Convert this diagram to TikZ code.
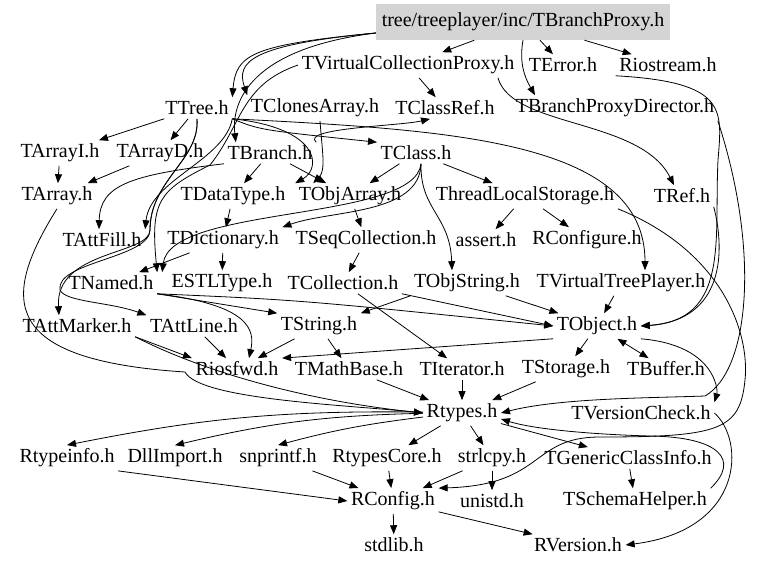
\documentclass[tikz,border=0pt]{standalone}
\usepackage{fontspec}
\setmainfont{Liberation Serif}
\usetikzlibrary{arrows.meta}
\tikzset{
    hdr/.style={font=\fontsize{20}{22}\selectfont, inner sep=3.5pt},
    dep/.style={-{Triangle[length=9pt,width=7pt]}, line width=0.8pt},
    both/.style={{Triangle[length=9pt,width=7pt]}-{Triangle[length=9pt,width=7pt]}, line width=0.8pt},
}
\begin{document}
\begin{tikzpicture}[x=1pt,y=-1pt]
            \useasboundingbox (0,0) rectangle (768,568);
            \node[hdr, fill=black!17, minimum width=294, minimum height=36] (root) at (523,22) {tree/treeplayer/inc/TBranchProxy.h};
            \node[hdr] (tvcproxy) at (408,65) {TVirtualCollectionProxy.h};
            \node[hdr] (terror) at (563,65) {TError.h};
            \node[hdr] (riostream) at (668,65) {Riostream.h};
            \node[hdr] (ttree) at (197,108) {TTree.h};
            \node[hdr] (tclonesarray) at (315,108) {TClonesArray.h};
            \node[hdr] (tclassref) at (445,108) {TClassRef.h};
            \node[hdr] (tbpdirector) at (615,108) {TBranchProxyDirector.h};
            \node[hdr] (tarrayi) at (60,153) {TArrayI.h};
            \node[hdr] (tarrayd) at (160,153) {TArrayD.h};
            \node[hdr] (tbranch) at (270,153) {TBranch.h};
            \node[hdr] (tclass) at (416,153) {TClass.h};
            \node[hdr] (tarray) at (57,196) {TArray.h};
            \node[hdr] (tdatatype) at (233,196) {TDataType.h};
            \node[hdr] (tobjarray) at (350,196) {TObjArray.h};
            \node[hdr] (tls) at (525,196) {ThreadLocalStorage.h};
            \node[hdr] (tref) at (682,196) {TRef.h};
            \node[hdr] (tattfill) at (102,240) {TAttFill.h};
            \node[hdr] (tdictionary) at (223,240) {TDictionary.h};
            \node[hdr] (tseqcollection) at (366,240) {TSeqCollection.h};
            \node[hdr] (assert) at (486,240) {assert.h};
            \node[hdr] (rconfigure) at (587,240) {RConfigure.h};
            \node[hdr] (tnamed) at (111,283) {TNamed.h};
            \node[hdr] (estltype) at (222,283) {ESTLType.h};
            \node[hdr] (tcollection) at (343,283) {TCollection.h};
            \node[hdr] (tobjstring) at (467,283) {TObjString.h};
            \node[hdr] (tvtreeplayer) at (621,283) {TVirtualTreePlayer.h};
            \node[hdr] (tattmarker) at (77,326) {TAttMarker.h};
            \node[hdr] (tattline) at (194,326) {TAttLine.h};
            \node[hdr] (tstring) at (319,326) {TString.h};
            \node[hdr] (tobject) at (597,326) {TObject.h};
            \node[hdr] (riosfwd) at (237,369) {Riosfwd.h};
            \node[hdr] (tmathbase) at (349,369) {TMathBase.h};
            \node[hdr] (titerator) at (462,369) {TIterator.h};
            \node[hdr] (tstorage) at (566,369) {TStorage.h};
            \node[hdr] (tbuffer) at (666,369) {TBuffer.h};
            \node[hdr] (rtypes) at (462,413) {Rtypes.h};
            \node[hdr] (tversioncheck) at (641,413) {TVersionCheck.h};
            \node[hdr] (rtypeinfo) at (67,458) {Rtypeinfo.h};
            \node[hdr] (dllimport) at (175,458) {DllImport.h};
            \node[hdr] (snprintf) at (278,458) {snprintf.h};
            \node[hdr] (rtypescore) at (387,458) {RtypesCore.h};
            \node[hdr] (strlcpy) at (492,458) {strlcpy.h};
            \node[hdr] (tgenclassinfo) at (628,458) {TGenericClassInfo.h};
            \node[hdr] (rconfig) at (393,501) {RConfig.h};
            \node[hdr] (unistd) at (492,501) {unistd.h};
            \node[hdr] (tschemahelper) at (635,501) {TSchemaHelper.h};
            \node[hdr] (stdlib) at (394,545) {stdlib.h};
            \node[hdr] (rversion) at (578,545) {RVersion.h};
            \draw[dep] (root) -- (tvcproxy);
            \draw[dep] (root) -- (terror);
            \draw[dep] (root) -- (riostream);
            \draw[dep] (root.south) to[out=-100,in=120] ([xshift=-80]tbpdirector.north);
            \draw[dep] ([yshift=-11]root.west) .. controls (250,45) and (236,55) .. (ttree.north east);
            \draw[dep] ([yshift=-11]root.west) .. controls (250,45) and (236,62) .. (tclonesarray.north west);
            \draw[dep] ([yshift=-11]root.west) .. controls (240,50) and (232,110) .. ([xshift=12]tbranch.north west);
            \draw[dep] (tvcproxy) -- (tclassref);
            \draw[dep] ([xshift=-20]tvcproxy.south east) .. controls (512,128) and (640,118) .. ([xshift=-8]tref.north);
            \draw[dep] (tvcproxy.west) .. controls (240,85) and (242,125) .. (210,165) .. controls (160,190) and (150,200) .. (tnamed.north east);
            \draw[dep] (riostream.south west) .. controls (728,82) and (722,110) .. (718,160) .. controls (714,240) and (730,320) .. (tobject.east);
            \draw[dep] (tbpdirector.south east) .. controls (760,250) and (750,370) .. (705,396) .. controls (650,398) and (560,398) .. (rtypes.east);
            \draw[dep] (ttree) -- (tarrayi);
            \draw[dep] (ttree) -- (tarrayd);
            \draw[dep] (ttree.south east) .. controls (225,160) and (150,180) .. (tattfill.north east);
            \draw[dep] (ttree.south east) .. controls (260,130) .. (tclass.north west);
            \draw[dep] (ttree.south east) .. controls (320,128) and (322,168) .. (tobjarray.north west);
            \draw[dep] (ttree.south east) .. controls (450,130) and (645,140) .. ([xshift=24]tvtreeplayer.north);
            \draw[dep] (ttree.south) .. controls (200,160) and (150,180) .. (150,230) .. controls (150,255) and (55,250) .. ([xshift=-18]tattmarker.north);
            \draw[dep] (ttree.south) .. controls (200,160) and (150,180) .. (150,230) .. controls (150,258) and (55,262) .. (60,290) .. controls (65,302) and (110,302) .. (tattline.north west);
            \draw[dep] ([xshift=5]tclonesarray.south) .. controls (322,150) and (326,170) .. ([xshift=18]tobjarray.north west);
            \draw[dep] (tbranch.north east) .. controls (300,128) and (400,126) .. ([xshift=-15]tclassref.south);
            \draw[dep] (tarrayi) -- (tarray);
            \draw[dep] (tarrayd) -- (tarray);
            \draw[dep] (tbranch.south west) .. controls (130,175) and (100,185) .. ([xshift=-3]tattfill.north);
            \draw[dep] (tbranch) -- (tdatatype);
            \draw[dep] (tbranch) -- (tobjarray);
            \draw[dep] (tclass) -- (tobjarray);
            \draw[dep] (tclass) -- (tls);
            \draw[dep] ([xshift=5]tclass.south) .. controls (420,215) and (330,210) .. (tdictionary.north east);
            \draw[dep] ([xshift=5]tclass.south) .. controls (420,210) and (450,215) .. ([xshift=-15]tobjstring.north);
            \draw[dep] ([xshift=5]tclass.south) .. controls (415,222) and (170,205) .. ([xshift=5]tnamed.north east);
            \draw[dep] (tarray.south) .. controls (0,300) and (0,360) .. (185,372) .. controls (200,400) and (350,405) .. (rtypes.west);
            \draw[dep] (tdatatype) -- (tdictionary);
            \draw[dep] (tobjarray) -- (tseqcollection);
            \draw[dep] (tls) -- (assert);
            \draw[dep] (tls) -- (rconfigure);
            \draw[dep] (tls.south east) .. controls (720,250) and (750,330) .. (745,380) .. controls (740,430) and (720,437) .. (600,437) .. controls (530,437) and (545,485) .. (rconfig.north east);
            \draw[dep] (tref.south east) .. controls (725,250) and (725,320) .. (tobject.east);
            \draw[dep] (tdictionary) -- (tnamed);
            \draw[dep] (tdictionary) -- (estltype);
            \draw[dep] (tseqcollection) -- (tcollection);
            \draw[dep] (tnamed.south east) -- (tstring.north west);
            \draw[dep] (tnamed.south east) .. controls (300,300) .. (tobject.west);
            \draw[dep] (tnamed.south east) .. controls (250,305) and (255,330) .. ([xshift=12]riosfwd.north);
            \draw[dep] (tcollection.south east) -- (tobject.west);
            \draw[dep] (tcollection) -- (titerator);
            \draw[dep] (tobjstring.south west) -- (tstring.north east);
            \draw[dep] (tobjstring) -- (tobject);
            \draw[dep] (tvtreeplayer) -- (tobject);
            \draw[dep] (tattmarker.south east) -- (riosfwd.north west);
            \draw[dep] (tattmarker.south east) .. controls (200,370) and (300,400) .. (rtypes.west);
            \draw[dep] (tattline) -- (riosfwd);
            \draw[dep] (tstring) -- (riosfwd);
            \draw[dep] (tstring) -- (tmathbase);
            \draw[dep] (tobject.south west) -- (riosfwd.north east);
            \draw[dep] (tobject) -- (tstorage);
            \draw[both] (tobject) -- (tbuffer);
            \draw[dep] (tobject.south east) .. controls (715,345) and (718,390) .. (tversioncheck.north east);
            \draw[dep] (tmathbase) -- (rtypes);
            \draw[dep] (titerator) -- (rtypes);
            \draw[dep] (tstorage) -- (rtypes);
            \draw[dep] (tversioncheck.east) .. controls (745,440) and (745,530) .. (rversion.east);
            \draw[dep] (rtypes) to[bend right=6] (rtypeinfo.north);
            \draw[dep] (rtypes) to[bend right=6] (dllimport.north);
            \draw[dep] (rtypes) to[bend right=4] (snprintf.north);
            \draw[dep] (rtypes) -- (rtypescore);
            \draw[dep] (rtypes) -- (strlcpy);
            \draw[dep] (rtypes) -- (tgenclassinfo);
            \draw[dep] (tschemahelper.north east) .. controls (740,460) and (720,437) .. (650,436) .. controls (580,434) and (530,428) .. ([yshift=-6]rtypes.east);
            \draw[dep] (tgenclassinfo) -- (tschemahelper);
            \draw[dep] (rtypeinfo.south east) -- (rconfig.west);
            \draw[dep] (snprintf) -- (rconfig);
            \draw[dep] (rtypescore) -- (rconfig);
            \draw[dep] (strlcpy) -- (rconfig);
            \draw[dep] (strlcpy) -- (unistd);
            \draw[dep] (rconfig) -- (stdlib);
            \draw[dep] (rconfig) -- (rversion);
        \end{tikzpicture}
\end{document}
